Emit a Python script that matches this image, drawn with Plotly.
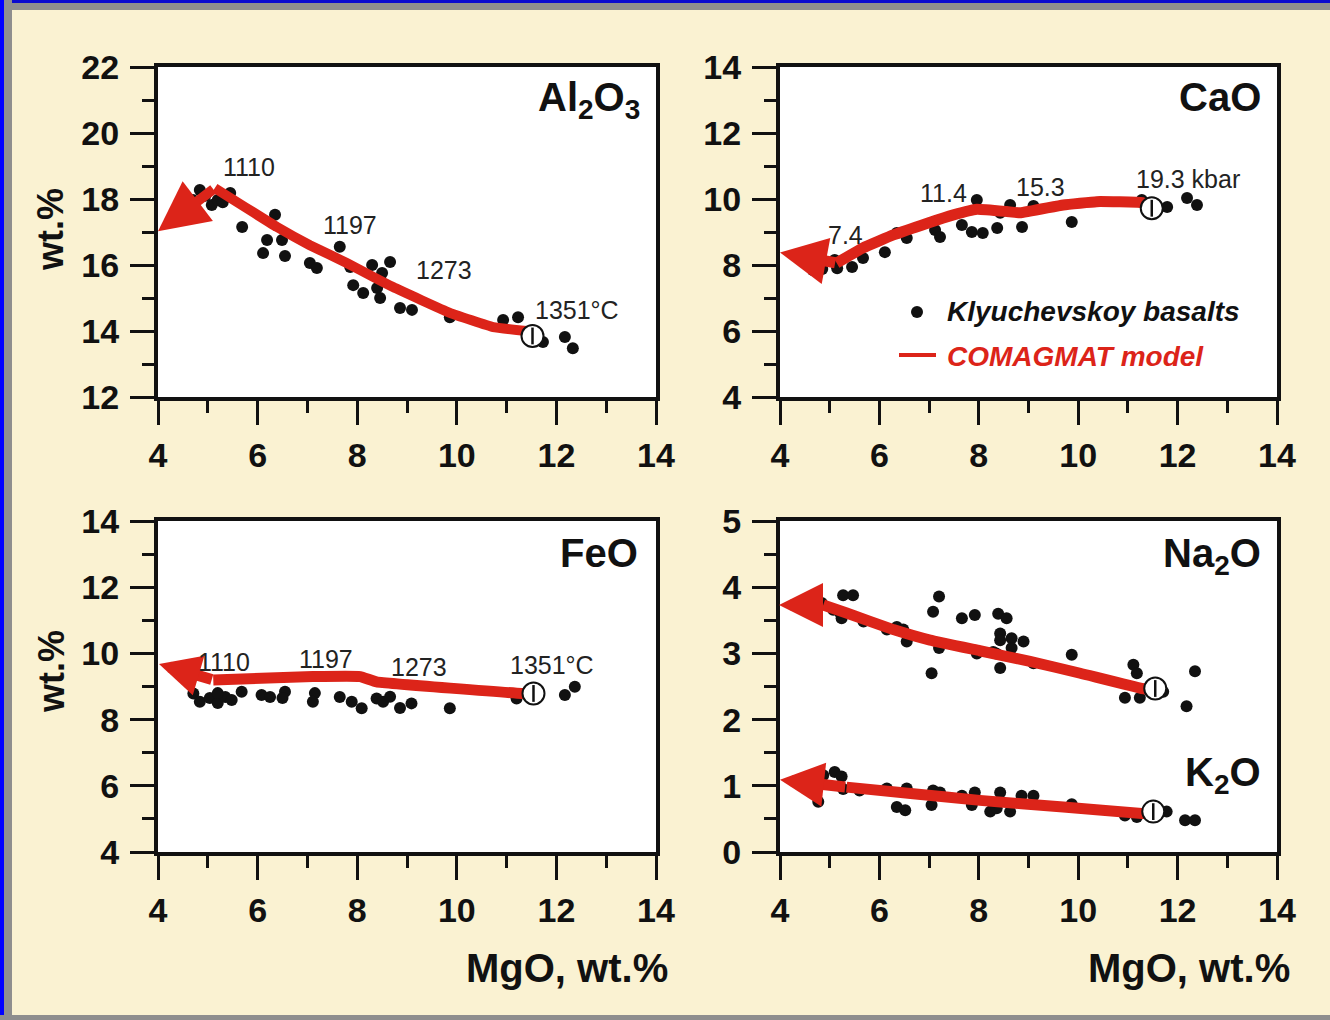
import plotly.graph_objects as go

# ---------------- data ----------------
# Al2O3 panel
al_mgo = [4.84, 4.70, 5.08, 5.20, 5.45, 5.30, 4.95, 5.69, 6.35, 6.19, 6.49, 6.11, 6.55, 7.05, 7.19, 7.65,
          7.86, 7.92, 8.12, 8.30, 8.66, 8.50, 8.40, 8.46, 8.86, 9.10, 9.86, 10.93, 11.23, 11.73, 12.17, 12.33]
al_val = [18.27, 17.97, 17.82, 17.97, 18.18, 17.90, 18.10, 17.15, 17.52, 16.76, 16.76, 16.36, 16.27, 16.06, 15.91, 16.55,
          15.94, 15.39, 15.15, 16.00, 16.09, 15.76, 15.30, 15.00, 14.70, 14.64, 14.42, 14.33, 14.42, 13.67, 13.82, 13.48]
al_model_mgo = [11.40, 10.73, 9.86, 8.72, 8.32, 7.79, 7.05, 6.39, 5.14]
al_model_val = [14.00, 14.12, 14.55, 15.33, 15.64, 16.06, 16.60, 17.15, 18.33]
al_arrow_tip = (4.0, 17.02)
al_start = (11.52, 13.85)
al_labels = ["1110", "1197", "1273", "1351°C"]
al_label_x = [5.83, 7.86, 9.74, 12.41]
al_label_y = [18.97, 17.21, 15.85, 14.64]

# CaO panel
ca_mgo = [4.66, 4.85, 5.15, 5.45, 5.67, 5.10, 6.11, 6.35, 6.55, 7.12, 7.22, 7.66, 7.96, 7.86, 8.08, 8.37,
          8.43, 8.63, 8.87, 9.10, 9.87, 11.28, 11.79, 12.19, 12.39]
ca_val = [7.85, 7.88, 7.90, 7.94, 8.21, 8.15, 8.39, 8.97, 8.82, 9.06, 8.85, 9.21, 9.97, 9.00, 8.97, 9.12,
          9.58, 9.82, 9.15, 9.79, 9.30, 9.97, 9.76, 10.03, 9.82]
ca_model_mgo = [11.40, 11.28, 10.37, 9.70, 8.83, 8.56, 7.96, 7.49, 6.95, 6.28, 5.67, 5.14]
ca_model_val = [9.80, 9.89, 9.92, 9.82, 9.58, 9.62, 9.69, 9.52, 9.26, 8.91, 8.52, 8.06]
ca_arrow_tip = (4.0, 8.38)
ca_start = (11.48, 9.72)
ca_labels = ["7.4", "11.4", "15.3", "19.3 kbar"]
ca_label_x = [5.31, 7.28, 9.25, 12.21]
ca_label_y = [8.91, 10.18, 10.36, 10.60]

# FeO panel
fe_mgo = [4.71, 4.84, 5.04, 5.20, 5.35, 5.48, 5.68, 6.08, 6.25, 6.55, 6.50, 7.15, 7.11, 7.65, 7.89, 8.09,
          8.39, 8.52, 8.66, 8.86, 9.09, 9.86, 11.20, 12.17, 12.37, 5.20]
fe_val = [8.79, 8.54, 8.65, 8.50, 8.68, 8.59, 8.84, 8.74, 8.68, 8.84, 8.65, 8.80, 8.54, 8.68, 8.54, 8.34,
          8.64, 8.54, 8.69, 8.35, 8.49, 8.34, 8.64, 8.74, 8.99, 8.80]
fe_model_mgo = [11.40, 11.30, 8.39, 8.06, 7.11, 5.11]
fe_model_val = [8.79, 8.79, 9.14, 9.30, 9.30, 9.20]
fe_arrow_tip = (4.02, 9.68)
fe_start = (11.54, 8.79)
fe_labels = ["1110", "1197", "1273", "1351°C"]
fe_label_x = [5.33, 7.37, 9.24, 11.91]
fe_label_y = [9.74, 9.83, 9.59, 9.65]

# Na2O
na_mgo = [4.84, 5.07, 5.27, 5.47, 5.21, 5.24, 5.68, 6.15, 6.35, 6.48, 6.55, 7.05, 7.08, 7.20, 7.20, 7.66,
          7.92, 7.96, 8.29, 8.39, 8.56, 8.43, 8.43, 8.66, 8.66, 8.90, 8.43, 8.35, 9.10, 9.87, 11.11, 11.18,
          10.94, 11.24, 11.71, 12.35, 12.18]
na_val = [3.76, 3.66, 3.88, 3.88, 3.61, 3.53, 3.48, 3.36, 3.40, 3.36, 3.18, 2.70, 3.63, 3.86, 3.08, 3.53,
          3.58, 3.00, 3.02, 3.60, 3.53, 3.30, 3.20, 3.23, 3.08, 3.18, 2.78, 3.00, 2.85, 2.98, 2.83, 2.70,
          2.33, 2.33, 2.42, 2.73, 2.20]
na_model_mgo = [11.40, 11.28, 10.04, 9.03, 8.02, 7.02, 6.28, 5.34, 4.87]
na_model_val = [2.46, 2.47, 2.70, 2.88, 3.04, 3.20, 3.36, 3.61, 3.73]
na_arrow_tip = (3.98, 3.73)
na_start = (11.55, 2.47)

# K2O
k_mgo = [4.87, 5.10, 5.24, 4.77, 5.27, 5.60, 6.15, 6.55, 6.35, 6.52, 7.08, 7.05, 7.22, 7.66, 7.92, 7.86,
         8.23, 8.43, 8.36, 8.63, 8.86, 9.10, 9.87, 10.94, 11.18, 11.78, 12.15, 12.35]
k_val = [1.16, 1.21, 1.14, 0.76, 0.95, 0.93, 0.96, 0.96, 0.68, 0.63, 0.93, 0.71, 0.90, 0.85, 0.90, 0.71,
         0.61, 0.90, 0.66, 0.61, 0.85, 0.85, 0.72, 0.55, 0.53, 0.61, 0.48, 0.48]
k_model_mgo = [11.40, 11.28, 9.70, 8.02, 6.68, 5.34]
k_model_val = [0.58, 0.58, 0.68, 0.78, 0.88, 0.98]
k_arrow_tip = (4.0, 1.09)
k_start = (11.51, 0.61)

x_ticks = [4, 6, 8, 10, 12, 14]

# ---------------- style ----------------
W, H = 1330, 1020
CREAM = "#FAF2D2"
RED = "#DC2419"
BLACK = "#111111"
FONT = "Liberation Sans, Arial, sans-serif"


def px(x):
    return x / W


def py(y):
    return 1 - y / H


fig = go.Figure()

panels = {
    1: dict(xd=[158, 656], yd=[67, 397], yr=[12, 22], ydt=2, yminor=1),
    2: dict(xd=[780, 1277], yd=[67, 397], yr=[4, 14], ydt=2, yminor=1),
    3: dict(xd=[158, 656], yd=[521, 852], yr=[4, 14], ydt=2, yminor=1),
    4: dict(xd=[780, 1277], yd=[521, 852], yr=[0, 5], ydt=1, yminor=0.5),
}

layout_axes = {}
for i, p in panels.items():
    sfx = "" if i == 1 else str(i)
    layout_axes["xaxis" + sfx] = dict(
        domain=[px(p["xd"][0]), px(p["xd"][1])], range=[4, 14], anchor="y" + sfx,
        tickvals=x_ticks, ticks="outside", ticklen=24, tickwidth=3, tickcolor=BLACK,
        minor=dict(ticks="outside", ticklen=12, tickwidth=3, dtick=1, tick0=0, tickcolor=BLACK, showgrid=False),
        showline=True, linewidth=4, linecolor=BLACK, mirror=True, showgrid=False, zeroline=False,
        tickfont=dict(family=FONT, size=34, color=BLACK, weight="bold"), ticklabelstandoff=1,
    )
    layout_axes["yaxis" + sfx] = dict(
        domain=[py(p["yd"][1]), py(p["yd"][0])], range=p["yr"], anchor="x" + sfx,
        dtick=p["ydt"], tick0=0, ticks="outside", ticklen=24, tickwidth=3, tickcolor=BLACK,
        minor=dict(ticks="outside", ticklen=12, tickwidth=3, dtick=p["yminor"], tick0=0, tickcolor=BLACK, showgrid=False),
        showline=True, linewidth=4, linecolor=BLACK, mirror=True, showgrid=False, zeroline=False,
        tickfont=dict(family=FONT, size=34, color=BLACK, weight="bold"), ticklabelstandoff=4,
    )

annotations = []


def add_panel(n, dmx, dmy, mmx, mmy, tip, start, lw, asz):
    sfx = "" if n == 1 else str(n)
    xa, ya = "x" + sfx, "y" + sfx
    fig.add_trace(go.Scatter(x=dmx, y=dmy, mode="markers", xaxis=xa, yaxis=ya,
                             marker=dict(size=12, color=BLACK), showlegend=False, hoverinfo="skip"))
    fig.add_trace(go.Scatter(x=mmx, y=mmy, mode="lines", xaxis=xa, yaxis=ya,
                             line=dict(color=RED, width=lw, shape="spline", smoothing=0.3),
                             showlegend=False, hoverinfo="skip"))
    annotations.append(dict(x=tip[0], y=tip[1], ax=mmx[-1], ay=mmy[-1], xref=xa, yref=ya,
                            axref=xa, ayref=ya, showarrow=True, arrowhead=2, arrowsize=asz,
                            arrowwidth=lw, arrowcolor=RED, text="", standoff=0, startstandoff=0))
    fig.add_trace(go.Scatter(x=[start[0]], y=[start[1]], mode="markers", xaxis=xa, yaxis=ya,
                             marker=dict(size=22, color="white", line=dict(color=BLACK, width=2)),
                             showlegend=False, hoverinfo="skip"))
    fig.add_trace(go.Scatter(x=[start[0]], y=[start[1]], mode="markers", xaxis=xa, yaxis=ya,
                             marker=dict(size=12, symbol="line-ns", line=dict(color=BLACK, width=2.5)),
                             showlegend=False, hoverinfo="skip"))


add_panel(1, al_mgo, al_val, al_model_mgo, al_model_val, al_arrow_tip, al_start, 10, 1.0)
add_panel(2, ca_mgo, ca_val, ca_model_mgo, ca_model_val, ca_arrow_tip, ca_start, 11, 0.85)
add_panel(3, fe_mgo, fe_val, fe_model_mgo, fe_model_val, fe_arrow_tip, fe_start, 11, 0.75)
add_panel(4, na_mgo, na_val, na_model_mgo, na_model_val, na_arrow_tip, na_start, 11, 0.8)
add_panel(4, k_mgo, k_val, k_model_mgo, k_model_val, k_arrow_tip, k_start, 11, 0.8)

lab_font = dict(family=FONT, size=25, color="#222222")
for n, labs, lx, ly in [(1, al_labels, al_label_x, al_label_y), (2, ca_labels, ca_label_x, ca_label_y),
                        (3, fe_labels, fe_label_x, fe_label_y)]:
    sfx = "" if n == 1 else str(n)
    for t, x, y in zip(labs, lx, ly):
        annotations.append(dict(x=x, y=y, xref="x" + sfx, yref="y" + sfx, text=t, showarrow=False,
                                font=lab_font, xanchor="center", yanchor="middle"))

title_font = dict(family=FONT, size=40, color=BLACK, weight="bold")
for t, xr, yc in [("Al<sub>2</sub>O<sub>3</sub>", 642, 100), ("CaO", 1263, 97), ("FeO", 640, 553),
                  ("Na<sub>2</sub>O", 1263, 556), ("K<sub>2</sub>O", 1263, 775)]:
    annotations.append(dict(x=px(xr), y=py(yc), xref="paper", yref="paper", text=t, showarrow=False,
                            font=title_font, xanchor="right", yanchor="middle"))

axis_font = dict(family=FONT, size=36, color=BLACK, weight="bold")
for yc in [230, 672]:
    annotations.append(dict(x=px(51), y=py(yc), xref="paper", yref="paper", text="wt.%", textangle=-90,
                            showarrow=False, font=axis_font, xanchor="center", yanchor="middle"))
for xr in [670, 1292]:
    annotations.append(dict(x=px(xr), y=py(968), xref="paper", yref="paper", text="MgO, wt.%",
                            showarrow=False, font=dict(family=FONT, size=40, color=BLACK, weight="bold"),
                            xanchor="right", yanchor="middle"))

# legend in CaO panel
leg_font = dict(family=FONT, size=28, weight="bold", style="italic")
annotations.append(dict(x=px(945), y=py(311), xref="paper", yref="paper", text="Klyuchevskoy basalts",
                        showarrow=False, font=dict(color=BLACK, **leg_font), xanchor="left", yanchor="middle"))
annotations.append(dict(x=px(945), y=py(356), xref="paper", yref="paper", text="COMAGMAT model",
                        showarrow=False, font=dict(color=RED, **leg_font), xanchor="left", yanchor="middle"))

shapes = [
    dict(type="circle", xref="paper", yref="paper", x0=px(911), x1=px(923), y0=py(318), y1=py(306),
         fillcolor=BLACK, line=dict(width=0)),
    dict(type="line", xref="paper", yref="paper", x0=px(899), x1=px(936), y0=py(355), y1=py(355),
         line=dict(color=RED, width=4)),
    # frame
    dict(type="rect", xref="paper", yref="paper", x0=0, x1=1, y0=py(10), y1=1, fillcolor="#8E8E8E",
         line=dict(width=0), layer="below"),
    dict(type="rect", xref="paper", yref="paper", x0=0, x1=1, y0=py(3), y1=1, fillcolor="#0A0ACF",
         line=dict(width=0), layer="below"),
    dict(type="rect", xref="paper", yref="paper", x0=0, x1=px(12), y0=0, y1=1, fillcolor="#8E8E8E",
         line=dict(width=0), layer="below"),
    dict(type="rect", xref="paper", yref="paper", x0=0, x1=px(4), y0=0, y1=1, fillcolor="#0000FF",
         line=dict(width=0), layer="below"),
    dict(type="rect", xref="paper", yref="paper", x0=0, x1=1, y0=0, y1=py(1015), fillcolor="#8E8E8E",
         line=dict(width=0), layer="below"),
]

fig.update_layout(
    width=W, height=H, margin=dict(l=0, r=0, t=0, b=0, autoexpand=False),
    paper_bgcolor=CREAM, plot_bgcolor="white", showlegend=False,
    annotations=annotations, shapes=shapes, **layout_axes,
)

fig.write_html("out.html", config={"displayModeBar": False},
               post_script="document.body.style.margin='0';document.body.style.overflow='hidden';")
